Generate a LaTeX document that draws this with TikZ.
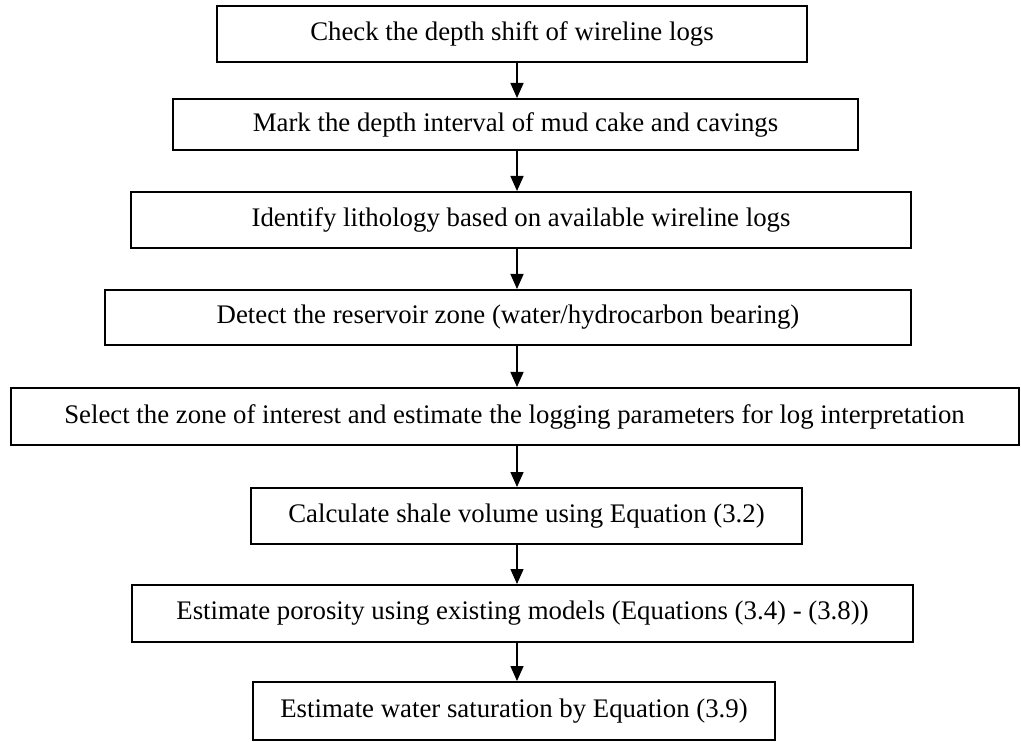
\documentclass[tikz,border=0pt]{standalone}
\usepackage{fontspec}
\setmainfont{Liberation Serif}
\usepackage{tikz}
\usetikzlibrary{arrows.meta,positioning}
\tikzset{
  paso/.style   = {draw, line width=1pt, align=center, inner sep=0pt,
                   font=\fontsize{13.4}{15}\selectfont},
  flecha/.style = {-{Triangle[length=7.5pt,width=6.5pt]}, line width=0.75pt},
}

\begin{document}
\begin{tikzpicture}[x=0.5pt, y=-0.5pt]
  \useasboundingbox (0,0) rectangle (1021,742);
  \coordinate (eje) at (517,0);
  \node[paso, minimum width=295pt,   minimum height=28pt]   (shift) at (512,34)    {Check the depth shift of wireline logs};
  \node[paso, minimum width=342.5pt, minimum height=25.5pt] (mud)   at (515.5,124.5) {Mark the depth interval of mud cake and cavings};
  \node[paso, minimum width=390pt,   minimum height=28pt]   (lith)  at (521,220)   {Identify lithology based on available wireline logs};
  \node[paso, minimum width=403pt,   minimum height=27.5pt] (res)   at (508,317.5) {Detect the reservoir zone (water/hydrocarbon bearing)};
  \node[paso, minimum width=504pt,   minimum height=28.5pt] (zoi)   at (514.5,416.5) {Select the zone of interest and estimate the logging parameters for log interpretation};
  \node[paso, minimum width=275.5pt, minimum height=28pt]   (vsh)   at (526.5,516) {Calculate shale volume using Equation (3.2)};
  \node[paso, minimum width=390.5pt, minimum height=28.5pt] (phi)   at (522.5,613.5) {Estimate porosity using existing models (Equations (3.4) - (3.8))};
  \node[paso, minimum width=261pt,   minimum height=29pt]   (sw)    at (514,711)   {Estimate water saturation by Equation (3.9)};
  \draw[flecha] (shift.south -| eje) -- (mud.north -| eje);
  \draw[flecha] (mud.south -| eje) -- (lith.north -| eje);
  \draw[flecha] (lith.south -| eje) -- (res.north -| eje);
  \draw[flecha] (res.south -| eje) -- (zoi.north -| eje);
  \draw[flecha] (zoi.south -| eje) -- (vsh.north -| eje);
  \draw[flecha] (vsh.south -| eje) -- (phi.north -| eje);
  \draw[flecha] (phi.south -| eje) -- (sw.north -| eje);
\end{tikzpicture}
\end{document}
